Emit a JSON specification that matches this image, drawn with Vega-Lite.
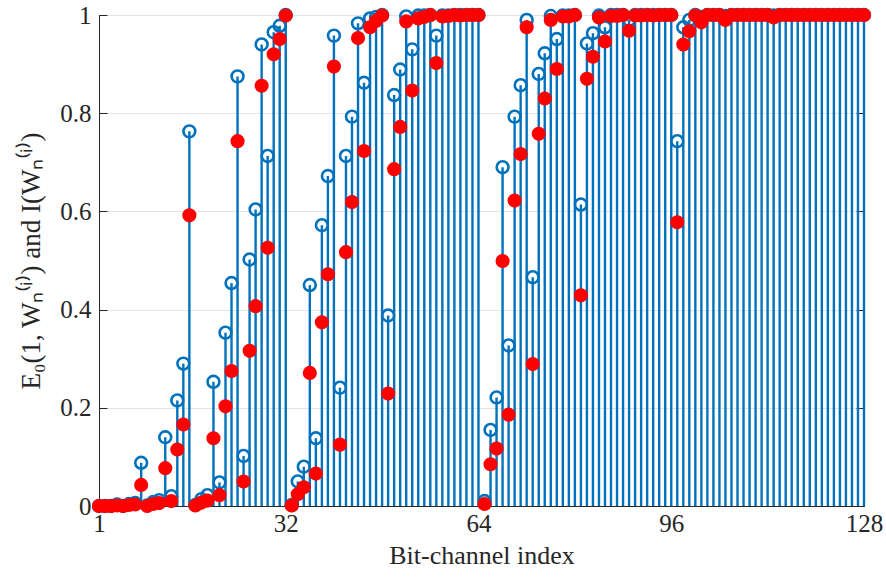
{
  "$schema": "https://vega.github.io/schema/vega-lite/v6.json",
  "width": 765,
  "height": 491,
  "autosize": {"type": "none"},
  "padding": {"left": 99, "top": 15, "right": 22, "bottom": 74},
  "background": "white",
  "config": {
    "view": {"stroke": "#262626", "strokeWidth": 1},
    "axis": {"labelFont": "Liberation Serif", "titleFont": "Liberation Serif", "labelColor": "#262626", "titleColor": "#262626", "domainColor": "#262626", "tickColor": "#262626", "titleFontWeight": "normal"}
  },
  "data": {"values": [
    {"idx":1,"E0":0,"I":0},{"idx":2,"E0":0,"I":0},{"idx":3,"E0":0,"I":0},{"idx":4,"E0":0.003,"I":0.001},
    {"idx":5,"E0":0,"I":0},{"idx":6,"E0":0.004,"I":0.002},{"idx":7,"E0":0.006,"I":0.003},{"idx":8,"E0":0.088,"I":0.043},
    {"idx":9,"E0":0.001,"I":0},{"idx":10,"E0":0.008,"I":0.004},{"idx":11,"E0":0.012,"I":0.006},{"idx":12,"E0":0.14,"I":0.077},
    {"idx":13,"E0":0.02,"I":0.01},{"idx":14,"E0":0.215,"I":0.115},{"idx":15,"E0":0.29,"I":0.166},{"idx":16,"E0":0.763,"I":0.592},
    {"idx":17,"E0":0.002,"I":0.001},{"idx":18,"E0":0.014,"I":0.007},{"idx":19,"E0":0.022,"I":0.011},{"idx":20,"E0":0.253,"I":0.138},
    {"idx":21,"E0":0.048,"I":0.022},{"idx":22,"E0":0.353,"I":0.203},{"idx":23,"E0":0.454,"I":0.275},{"idx":24,"E0":0.875,"I":0.743},
    {"idx":25,"E0":0.102,"I":0.05},{"idx":26,"E0":0.502,"I":0.316},{"idx":27,"E0":0.604,"I":0.407},{"idx":28,"E0":0.94,"I":0.856},
    {"idx":29,"E0":0.713,"I":0.526},{"idx":30,"E0":0.965,"I":0.92},{"idx":31,"E0":0.978,"I":0.951},{"idx":32,"E0":1,"I":0.999},
    {"idx":33,"E0":0.002,"I":0.001},{"idx":34,"E0":0.05,"I":0.024},{"idx":35,"E0":0.08,"I":0.038},{"idx":36,"E0":0.45,"I":0.271},
    {"idx":37,"E0":0.138,"I":0.066},{"idx":38,"E0":0.572,"I":0.374},{"idx":39,"E0":0.672,"I":0.472},{"idx":40,"E0":0.958,"I":0.895},
    {"idx":41,"E0":0.241,"I":0.125},{"idx":42,"E0":0.713,"I":0.517},{"idx":43,"E0":0.793,"I":0.619},{"idx":44,"E0":0.983,"I":0.953},
    {"idx":45,"E0":0.862,"I":0.723},{"idx":46,"E0":0.993,"I":0.975},{"idx":47,"E0":0.996,"I":0.988},{"idx":48,"E0":1,"I":0.999},
    {"idx":49,"E0":0.388,"I":0.229},{"idx":50,"E0":0.837,"I":0.686},{"idx":51,"E0":0.889,"I":0.772},{"idx":52,"E0":0.997,"I":0.987},
    {"idx":53,"E0":0.93,"I":0.846},{"idx":54,"E0":0.999,"I":0.993},{"idx":55,"E0":0.999,"I":0.996},{"idx":56,"E0":1,"I":1},
    {"idx":57,"E0":0.958,"I":0.902},{"idx":58,"E0":0.999,"I":0.997},{"idx":59,"E0":0.999,"I":0.998},{"idx":60,"E0":1,"I":1},
    {"idx":61,"E0":1,"I":0.999},{"idx":62,"E0":1,"I":1},{"idx":63,"E0":1,"I":1},{"idx":64,"E0":1,"I":1},
    {"idx":65,"E0":0.01,"I":0.004},{"idx":66,"E0":0.155,"I":0.085},{"idx":67,"E0":0.221,"I":0.117},{"idx":68,"E0":0.69,"I":0.499},
    {"idx":69,"E0":0.327,"I":0.186},{"idx":70,"E0":0.793,"I":0.622},{"idx":71,"E0":0.857,"I":0.717},{"idx":72,"E0":0.99,"I":0.975},
    {"idx":73,"E0":0.466,"I":0.289},{"idx":74,"E0":0.88,"I":0.758},{"idx":75,"E0":0.922,"I":0.83},{"idx":76,"E0":0.998,"I":0.99},
    {"idx":77,"E0":0.951,"I":0.89},{"idx":78,"E0":0.999,"I":0.997},{"idx":79,"E0":0.999,"I":0.997},{"idx":80,"E0":1,"I":1},
    {"idx":81,"E0":0.614,"I":0.429},{"idx":82,"E0":0.942,"I":0.87},{"idx":83,"E0":0.963,"I":0.915},{"idx":84,"E0":0.999,"I":0.995},
    {"idx":85,"E0":0.975,"I":0.946},{"idx":86,"E0":1,"I":0.998},{"idx":87,"E0":1,"I":0.998},{"idx":88,"E0":1,"I":1},
    {"idx":89,"E0":0.99,"I":0.968},{"idx":90,"E0":1,"I":0.999},{"idx":91,"E0":1,"I":0.999},{"idx":92,"E0":1,"I":1},
    {"idx":93,"E0":1,"I":0.999},{"idx":94,"E0":1,"I":1},{"idx":95,"E0":1,"I":1},{"idx":96,"E0":1,"I":1},
    {"idx":97,"E0":0.743,"I":0.578},{"idx":98,"E0":0.975,"I":0.94},{"idx":99,"E0":0.99,"I":0.967},{"idx":100,"E0":1,"I":0.999},
    {"idx":101,"E0":0.996,"I":0.985},{"idx":102,"E0":1,"I":1},{"idx":103,"E0":1,"I":1},{"idx":104,"E0":1,"I":1},
    {"idx":105,"E0":0.998,"I":0.99},{"idx":106,"E0":1,"I":1},{"idx":107,"E0":1,"I":1},{"idx":108,"E0":1,"I":1},
    {"idx":109,"E0":1,"I":1},{"idx":110,"E0":1,"I":1},{"idx":111,"E0":1,"I":1},{"idx":112,"E0":1,"I":1},
    {"idx":113,"E0":0.999,"I":0.995},{"idx":114,"E0":1,"I":1},{"idx":115,"E0":1,"I":1},{"idx":116,"E0":1,"I":1},
    {"idx":117,"E0":1,"I":1},{"idx":118,"E0":1,"I":1},{"idx":119,"E0":1,"I":1},{"idx":120,"E0":1,"I":1},
    {"idx":121,"E0":1,"I":1},{"idx":122,"E0":1,"I":1},{"idx":123,"E0":1,"I":1},{"idx":124,"E0":1,"I":1},
    {"idx":125,"E0":1,"I":1},{"idx":126,"E0":1,"I":1},{"idx":127,"E0":1,"I":1},{"idx":128,"E0":1,"I":1}
  ]},
  "layer": [
    {
      "mark": {"type": "rule", "color": "#0072BD", "strokeWidth": 2.4, "clip": false},
      "encoding": {
        "x": {"field": "idx", "type": "quantitative", "scale": {"domain": [1, 128], "nice": false, "zero": false},
          "axis": {"values": [1, 32, 64, 96, 128], "title": "Bit-channel index", "grid": false, "tickSize": -8, "labelPadding": 13, "labelFontSize": 25, "titleFontSize": 26, "titlePadding": 6, "labelFlush": false}},
        "y": {"field": "E0", "type": "quantitative", "scale": {"domain": [0, 1], "nice": false},
          "axis": {"values": [0, 0.2, 0.4, 0.6, 0.8, 1], "format": "~g", "title": "E₀(1, Wₙ⁽ⁱ⁾) and I(Wₙ⁽ⁱ⁾)", "grid": true, "gridColor": "#e3e3e3", "gridWidth": 1, "tickSize": -8, "labelPadding": 16, "labelFontSize": 25, "titleFontSize": 27, "titlePadding": 14, "labelFlush": false}},
        "y2": {"datum": 0}
      }
    },
    {
      "mark": {"type": "point", "shape": "circle", "filled": false, "color": "#0072BD", "size": 140, "strokeWidth": 2.6, "opacity": 1, "clip": false},
      "encoding": {
        "x": {"field": "idx", "type": "quantitative", "axis": {"orient": "top", "values": [1, 32, 64, 96, 128], "labels": false, "title": null, "domain": false, "grid": false, "tickSize": -8}},
        "y": {"field": "E0", "type": "quantitative", "axis": {"orient": "right", "values": [0, 0.2, 0.4, 0.6, 0.8, 1], "labels": false, "title": null, "domain": false, "grid": false, "tickSize": -8}}
      }
    },
    {
      "mark": {"type": "point", "shape": "circle", "filled": true, "color": "#FF0000", "size": 200, "opacity": 1, "strokeWidth": 0, "clip": false},
      "encoding": {
        "x": {"field": "idx", "type": "quantitative", "axis": null},
        "y": {"field": "I", "type": "quantitative", "axis": null}
      }
    }
  ],
  "resolve": {"axis": {"x": "independent", "y": "independent"}}
}
